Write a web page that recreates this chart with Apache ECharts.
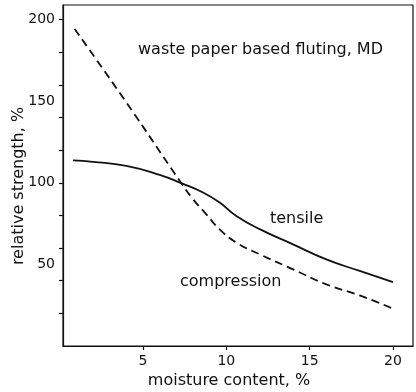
<!DOCTYPE html>
<html>
<head>
<meta charset="utf-8">
<style>
  html, body { margin: 0; padding: 0; background: #fff; }
  #chart { width: 416px; height: 392px; }
</style>
<script src="https://cdn.jsdelivr.net/npm/echarts@6/dist/echarts.min.js"></script>
</head>
<body>
<div id="chart"></div>
<script>
// values
const tensileX = [0.8, 2.0, 4.0, 6.0, 7.3, 8.6, 9.6, 10.6, 12.0, 14.0, 16.0, 18.0, 20.0]
const tensileY = [113.8, 112.9, 110.4, 104.9, 99.8, 94.1, 87.9, 79.7, 71.6, 62.3, 53.1, 46.0, 39.2]

const compressionX = [0.9, 4.0, 7.3, 8.0, 8.8, 9.6, 10.6, 12.0, 14.0, 16.0, 18.0, 20.0]
const compressionY = [194.3, 149.3, 99.8, 90.0, 80.7, 71.5, 63.4, 56.2, 47.0, 37.8, 31.0, 22.9]

const xTicks = [5, 10, 15, 20]
const yTicks = [20, 40, 60, 80, 100, 120, 140, 160, 180, 200]
const yLabels = [50, 100, 150, 200]

const FONT = "'DejaVu Sans', sans-serif"
const INK = '#111'

const pairs = (xs, ys) => xs.map((x, i) => [x, ys[i]])

const chart = echarts.init(document.getElementById('chart'), null, { renderer: 'canvas' })

chart.setOption({
  animation: false,
  backgroundColor: '#fff',
  grid: {
    left: 63, right: 3, top: 5, bottom: 46,
    show: true, borderColor: INK, borderWidth: 1.2,
  },
  xAxis: {
    type: 'value',
    min: 0.2,
    max: 21.2,
    axisLine: { show: true, lineStyle: { color: INK, width: 1.2 } },
    axisTick: { show: true, length: 4, customValues: xTicks, lineStyle: { color: INK, width: 1.2 } },
    axisLabel: { customValues: xTicks, color: INK, fontFamily: FONT, fontSize: 14, margin: 8 },
    splitLine: { show: false },
  },
  yAxis: {
    type: 'value',
    min: 0,
    max: 209,
    axisLine: { show: true, lineStyle: { color: INK, width: 1.2 } },
    axisTick: { show: true, length: 4, customValues: yTicks, lineStyle: { color: INK, width: 1.2 } },
    axisLabel: { customValues: yLabels, color: INK, fontFamily: FONT, fontSize: 14, margin: 8 },
    splitLine: { show: false },
  },
  graphic: [
    { type: 'text', x: 138, y: 50, style: { text: 'waste paper based fluting, MD', fill: INK, font: '16px ' + FONT, verticalAlign: 'middle' } },
    { type: 'text', x: 270, y: 219, style: { text: 'tensile', fill: INK, font: '16px ' + FONT, verticalAlign: 'middle' } },
    { type: 'text', x: 180, y: 282, style: { text: 'compression', fill: INK, font: '16px ' + FONT, verticalAlign: 'middle' } },
    { type: 'text', x: 229, y: 381, style: { text: 'moisture content, %', fill: INK, font: '16px ' + FONT, align: 'center', verticalAlign: 'middle' } },
    { type: 'text', x: 19, y: 186, rotation: Math.PI / 2, style: { text: 'relative strength, %', fill: INK, font: '16px ' + FONT, align: 'center', verticalAlign: 'middle' } },
  ],
  series: [
    {
      name: 'tensile',
      type: 'line',
      data: pairs(tensileX, tensileY),
      smooth: 0.5,
      showSymbol: false,
      lineStyle: { color: INK, width: 1.8 },
    },
    {
      name: 'compression',
      type: 'line',
      data: pairs(compressionX, compressionY),
      smooth: 0.5,
      showSymbol: false,
      lineStyle: { color: INK, width: 1.8, type: [8, 5] },
    },
  ],
})
</script>
</body>
</html>
